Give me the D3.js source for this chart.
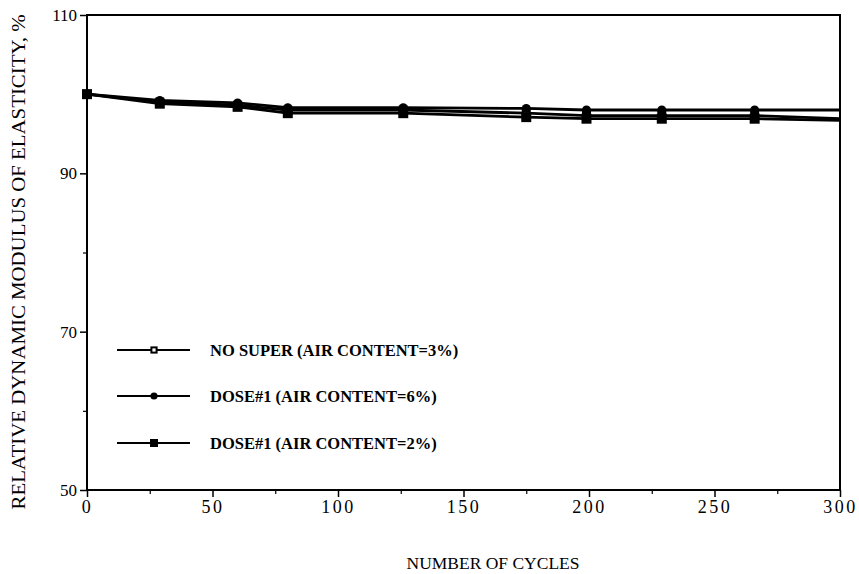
<!DOCTYPE html>
<html><head><meta charset="utf-8">
<script src="https://cdn.jsdelivr.net/npm/d3@7"></script>
<style>body{margin:0;background:#fff}svg{display:block}</style>
</head><body>
<script>
const cycles = [0, 29, 60, 80, 126, 175, 199, 229, 266, 300];
const noSuper = [100, 99.0, 98.6, 98.0, 98.0, 97.6, 97.3, 97.3, 97.3, 96.9];
const dose6 = [100, 99.2, 98.9, 98.3, 98.3, 98.2, 98.0, 98.0, 98.0, 98.0];
const dose2 = [100, 98.8, 98.4, 97.6, 97.6, 97.1, 96.9, 96.9, 96.9, 96.7];
const seriesNames = ["NO SUPER (AIR CONTENT=3%)", "DOSE#1 (AIR CONTENT=6%)", "DOSE#1 (AIR CONTENT=2%)"];
const markerTypes = ["openSquare", "circle", "square"];
const xTicks = [0, 50, 100, 150, 200, 250, 300];
const xMinorTicks = [25, 75, 125, 175, 225, 275];
const yTicks = [50, 70, 90, 110];
const yMinorTicks = [60, 80, 100];
const xTitle = "NUMBER OF CYCLES";
const yTitle = "RELATIVE DYNAMIC MODULUS OF ELASTICITY, %";

const W = 859, H = 574;
const m = {l: 87, r: 19, t: 15, b: 84};
const svg = d3.select("body").append("svg").attr("width", W).attr("height", H);
const x = d3.scaleLinear().domain([0, 300]).range([m.l, W - m.r]);
const y = d3.scaleLinear().domain([50, 110]).range([H - m.b, m.t]);
const font = "'Liberation Serif', 'Times New Roman', serif";

// frame
svg.append("rect").attr("x", x(0)).attr("y", y(110)).attr("width", x(300) - x(0)).attr("height", y(50) - y(110))
  .attr("fill", "none").attr("stroke", "#000").attr("stroke-width", 2);

// x axis
const xa = svg.append("g").attr("transform", `translate(0,${y(50)})`)
  .call(d3.axisBottom(x).tickValues(xTicks).tickSize(7).tickPadding(3).tickFormat(d3.format("d")));
xa.select(".domain").remove();
xa.selectAll("line").attr("stroke-width", 1.5);
xa.selectAll("text").attr("font-family", font).attr("font-size", 18).attr("letter-spacing", 2.5)
  .attr("fill", "#000");
const xm = svg.append("g").attr("transform", `translate(0,${y(50)})`)
  .call(d3.axisBottom(x).tickValues(xMinorTicks).tickSize(4).tickFormat(""));
xm.select(".domain").remove();
xm.selectAll("line").attr("stroke-width", 1.2);

// y axis
const ya = svg.append("g").attr("transform", `translate(${x(0)},0)`)
  .call(d3.axisLeft(y).tickValues(yTicks).tickSize(7).tickPadding(3).tickFormat(d3.format("d")));
ya.select(".domain").remove();
ya.selectAll("line").attr("stroke-width", 1.5);
ya.selectAll("text").attr("font-family", font).attr("font-size", 17).attr("fill", "#000");
const ym = svg.append("g").attr("transform", `translate(${x(0)},0)`)
  .call(d3.axisLeft(y).tickValues(yMinorTicks).tickSize(4).tickFormat(""));
ym.select(".domain").remove();
ym.selectAll("line").attr("stroke-width", 1.2);

// titles
svg.append("text").attr("x", 493).attr("y", 569).attr("text-anchor", "middle")
  .attr("font-family", font).attr("font-size", 16.5).attr("textLength", 173)
  .attr("lengthAdjust", "spacingAndGlyphs").text(xTitle);
svg.append("text").attr("transform", `translate(25,262) rotate(-90)`).attr("text-anchor", "middle")
  .attr("font-family", font).attr("font-size", 19).attr("textLength", 495)
  .attr("lengthAdjust", "spacingAndGlyphs").text(yTitle);

function drawMarker(g, type, cx, cy, s) {
  s = s || 1;
  if (type === "openSquare") {
    g.append("rect").attr("x", cx - 4.5 * s).attr("y", cy - 4.5 * s).attr("width", 9 * s).attr("height", 9 * s)
      .attr("fill", "#000");
    g.append("rect").attr("x", cx - 2 * s).attr("y", cy - 2 * s).attr("width", 4 * s).attr("height", 4 * s)
      .attr("fill", "#fff");
  } else if (type === "circle") {
    g.append("circle").attr("cx", cx).attr("cy", cy).attr("r", 4.5 * s).attr("fill", "#000");
  } else {
    g.append("rect").attr("x", cx - 5 * s).attr("y", cy - 5 * s).attr("width", 10 * s).attr("height", 10 * s)
      .attr("fill", "#000");
  }
}

const allSeries = [noSuper, dose6, dose2];
const line = d3.line().x((d, i) => x(cycles[i])).y(d => y(d));
allSeries.forEach((vals, si) => {
  svg.append("path").datum(vals).attr("d", line).attr("fill", "none")
    .attr("stroke", "#000").attr("stroke-width", 2.8);
});
allSeries.forEach((vals, si) => {
  const g = svg.append("g");
  vals.forEach((v, i) => { if (cycles[i] < 300) drawMarker(g, markerTypes[si], x(cycles[i]), y(v)); });
});

// legend
const legY = [350, 396, 443];
seriesNames.forEach((name, i) => {
  const g = svg.append("g");
  g.append("line").attr("x1", 117).attr("x2", 190).attr("y1", legY[i]).attr("y2", legY[i])
    .attr("stroke", "#000").attr("stroke-width", 2.2);
  drawMarker(g, markerTypes[i], 154, legY[i], 0.8);
  g.append("text").attr("x", 210).attr("y", legY[i] + 6).attr("font-family", font)
    .attr("font-weight", "bold").attr("font-size", 16.5).text(name);
});
</script>
</body></html>
